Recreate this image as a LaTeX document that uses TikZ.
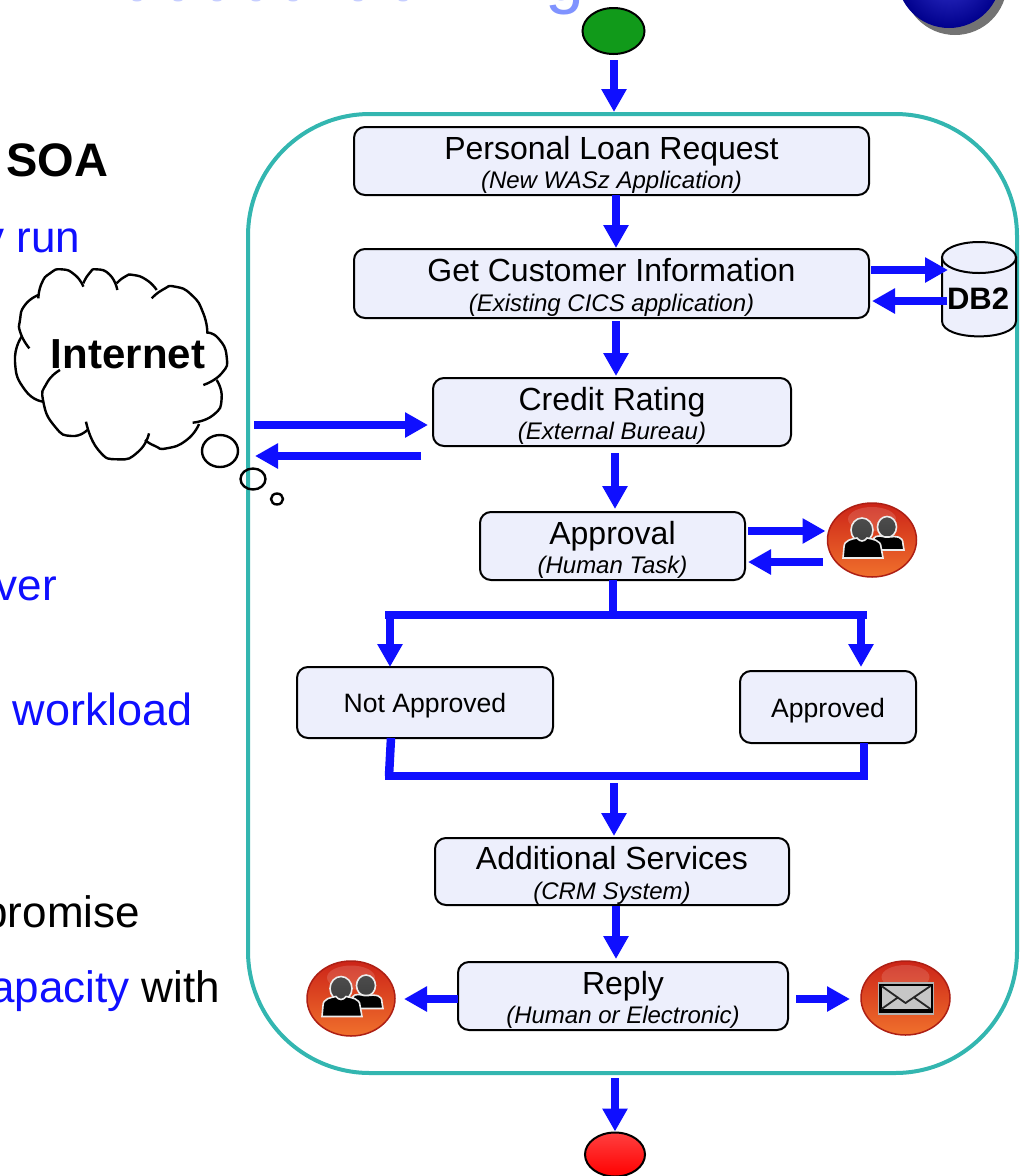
\documentclass[tikz,border=0pt]{standalone}
\usepackage{fontspec}
\setmainfont{Liberation Sans}
\usetikzlibrary{arrows.meta,calc,shapes.geometric}
\definecolor{flowblue}{HTML}{0F0FFF}
\definecolor{teal2}{HTML}{33B6B0}
\definecolor{boxfill}{HTML}{EDEFFC}
\definecolor{titleblue}{HTML}{8093FF}
\definecolor{gdark}{HTML}{119A1A}
\definecolor{gmid}{HTML}{45B545}
\definecolor{balltop}{HTML}{CC2418}
\definecolor{ballmid}{HTML}{E04A20}
\definecolor{ballbot}{HTML}{F0702C}
\tikzset{
  x=1pt,y=-1pt,
  frame/.style={draw=teal2,line width=4pt,rectangle,rounded corners=122pt,inner sep=0pt,outer sep=0pt},
  stepbox/.style={draw=black,line width=2pt,fill=boxfill,rectangle,rounded corners=11pt,inner sep=0pt,outer sep=0pt,align=center,
     font=\fontsize{32}{29.5}\selectfont},
  smallbox/.style={stepbox,font=\fontsize{26.6}{28}\selectfont},
  flow/.style={draw=flowblue,line width=8pt,-{Triangle[length=23pt,width=24pt]}},
  bar/.style={draw=flowblue,line width=8.5pt,line cap=butt},
  stem/.style={draw=flowblue,line width=8pt},
  cloudline/.style={draw=black,line width=2.4pt},
  bubble/.style={draw=black,line width=2.4pt,ellipse,inner sep=0pt,outer sep=0pt},
  ball/.style={ellipse,inner sep=0pt,outer sep=0pt,draw=balltop!85!black,line width=1.5pt,top color=balltop,middle color=ballmid,bottom color=ballbot},
  bodytext/.style={inner sep=0pt,outer sep=0pt,anchor=base east,font=\fontsize{44}{44}\selectfont},
  person/.style={draw=white!85!gray,line width=1.6pt,fill=black},
  phead/.style={draw=white!85!gray,line width=1.6pt,top color=gray!60!black,bottom color=black!75},
}
\newcommand\steptxt[2]{\rule{0pt}{31pt}#1\\{\fontsize{24}{29.5}\selectfont\itshape #2}}
\newcommand\smalltxt[1]{\rule{0pt}{26pt}#1}
\newcommand\lobe[1]{\draw[cloudline,xscale=1/3,yscale=1/3] plot[smooth,tension=1] coordinates {#1};}
\newcommand\people[2]{\begin{scope}[shift={(#1,#2)}]
  \path[phead] (15,-13) ellipse[x radius=9.5,y radius=10.5];
  \path[person] (2,10) -- (2,-2) .. controls (4,-5) and (10,-4) .. (13,-3) -- (17,-3) .. controls (24,-4) and (31,-4) .. (31,4) -- (32,10) -- cycle;
  \path[phead] (-10,-10) ellipse[x radius=11,y radius=12];
  \path[person] (-29,18) -- (-28,7) .. controls (-28,0) and (-20,-1) .. (-15,-2) .. controls (-12,2) and (-8,2) .. (-5,-2) .. controls (0,-1) and (9,0) .. (9,7) -- (11,18) -- cycle;
\end{scope}}
\begin{document}
\begin{tikzpicture}
\useasboundingbox (0,0) rectangle (1028,1176);
\begin{scope}
\clip (0,0) rectangle (1028,1176);
% title remains
\node[inner sep=0pt,anchor=base,text=titleblue,font=\fontsize{70}{70}\selectfont] (titleg) at (565,0) {g};
\foreach \fx in {137,178,217,256,293,358,403}
  \fill[titleblue!45!white] (\fx,-2) ellipse[x radius=6,y radius=3.5];
% globe
\fill[gray!90!black] (955,-17) circle[radius=52];
\shade[inner color=blue!60!gray,outer color=blue!55!black] (949,-24) circle[radius=52];
% body text fragments
\node[bodytext,font=\bfseries\fontsize{47}{47}\selectfont] (soa) at (108,176) {SOA};
\node[bodytext,text=flowblue] (t1) at (80,252) {y run};
\node[bodytext,text=flowblue] (t2) at (57,600) {ver};
\node[bodytext,text=flowblue,font=\fontsize{45}{45}\selectfont] (t3) at (193,725) {workload};
\node[bodytext] (t4) at (140,927) {promise};
\node[bodytext] (t5) at (220,1002) {\textcolor{flowblue}{apacity} with};
\end{scope}
% frame
\node[frame,minimum width=769,minimum height=959] (frame) at (632.5,593.5) {};
% boxes
\coordinate (axis) at (616,0);
\node[stepbox,minimum width=515,minimum height=68] (b1) at (611.5,161) {\steptxt{Personal Loan Request}{(New WASz Application)}};
\node[stepbox,minimum width=515,minimum height=69] (b2) at (611.5,283.5) {\steptxt{Get Customer Information}{(Existing CICS application)}};
\node[stepbox,minimum width=358,minimum height=68] (b3) at (612,412) {\steptxt{Credit Rating}{(External Bureau)}};
\node[stepbox,minimum width=265,minimum height=68] (b4) at (612.5,546) {\steptxt{Approval}{(Human Task)}};
\node[smallbox,minimum width=256,minimum height=71] (na) at (425,702.5) {\smalltxt{Not Approved}};
\node[smallbox,minimum width=176,minimum height=72] (ap) at (828,707) {\smalltxt{Approved}};
\node[stepbox,minimum width=354,minimum height=67] (b7) at (612,871.5) {\steptxt{Additional Services}{(CRM System)}};
\node[stepbox,minimum width=330,minimum height=68] (b8) at (623,996) {\steptxt{Reply}{(Human or Electronic)}};
% start / stop
\node[ellipse,draw=black,line width=2pt,inner sep=0pt,outer sep=0pt,minimum width=62,minimum height=46,top color=gdark,middle color=gmid,bottom color=gdark] (start) at (613.5,31) {};
\node[ellipse,draw=black,line width=2pt,inner sep=0pt,outer sep=0pt,minimum width=60,minimum height=44,top color=red!75!white,bottom color=red] (stopn) at (615,1154.5) {};
% DB2 cylinder
\path[draw=black,line width=2pt,fill=boxfill] (942,257.5) -- (942,321) .. controls (942,341.5) and (1016,341.5) .. (1016,321) -- (1016,257.5) -- cycle;
\path[draw=black,line width=2pt,fill=boxfill] (979,257.5) ellipse[x radius=37,y radius=15.5];
\node[inner sep=0pt,outer sep=0pt,font=\bfseries\fontsize{31}{31}\selectfont] (db) at (978,299) {DB2};
% human / mail balls
\node[ball,minimum width=89,minimum height=74] (hum1) at (872,540) {};
\node[ball,minimum width=88,minimum height=75] (hum2) at (351,998.5) {};
\node[ball,minimum width=89,minimum height=74] (mail) at (905.5,998) {};
\foreach \bx/\by in {872/540,351/998.5,905.5/998}
  \fill[white,opacity=.14] (\bx,\by-21) ellipse[x radius=24,y radius=12];
\people{872}{540}
\people{351}{998.5}
\begin{scope}[shift={(905.5,998)}]
  \path[fill=black,draw=gray!60,line width=1.5pt] (-27,-15) rectangle (28,16);
  \path[fill=gray!45] (-24,-12) rectangle (25,11);
  \draw[gray!30!black,line width=1.8pt,line join=round] (-24,-12) -- (0,5) -- (25,-12) (-24,11) -- (-7,-1) (25,11) -- (8,-1);
\end{scope}
% cloud
\lobe{(88,1045) (62,1000) (60,960) (75,915) (115,885)}
\lobe{(115,895) (125,850) (150,820) (185,808) (225,825) (250,860)}
\lobe{(250,850) (268,820) (290,808) (330,825) (352,870)}
\lobe{(350,850) (375,830) (400,825) (440,840) (470,870)}
\lobe{(455,895) (490,868) (525,860) (575,885) (610,940) (622,1000)}
\lobe{(620,998) (655,1015) (680,1070) (665,1120) (610,1155)}
\lobe{(650,1140) (665,1195) (640,1245) (578,1268)}
\lobe{(597,1272) (560,1320) (500,1345) (465,1338) (435,1320)}
\lobe{(447,1300) (415,1355) (355,1378) (295,1350) (258,1265)}
\lobe{(262,1290) (215,1308) (165,1280) (130,1205) (140,1150) (180,1110)}
\lobe{(130,1205) (75,1170) (45,1085) (65,1010)}
\node[inner sep=0pt,outer sep=0pt,font=\bfseries\fontsize{42}{42}\selectfont] (net) at (128,354) {Internet};
\node[bubble,minimum width=36,minimum height=32] (bub1) at (220,451) {};
\node[bubble,minimum width=25,minimum height=21] (bub2) at (253,479) {};
\node[bubble,minimum width=12,minimum height=11] (bub3) at (277,499) {};
% main flow
\draw[flow,shorten <=6pt,shorten >=2pt] (start.south -| 614,0) -- (frame.north -| 614,0);
\draw[flow,shorten >=1pt] (b1.south -| axis) -- (b2.north -| axis);
\draw[flow,shorten <=3pt,shorten >=2pt] (b2.south -| axis) -- (b3.north -| axis);
\draw[flow,shorten <=7pt,shorten >=3pt] (b3.south -| 615,0) -- (b4.north -| 615,0);
\draw[stem,shorten >=-2pt] (b4.south -| 613,0) -- (613,612);
\coordinate (barTL) at (385,615);
\coordinate (barTR) at (867,615);
\coordinate (barBL) at (385,776);
\coordinate (barBR) at (868,776);
\draw[bar] (barTL) -- (barTR);
\draw[bar] (barBL) -- (barBR);
\draw[flow] (390,615) -- (na.north -| 390,0);
\draw[flow,shorten >=4pt] (861,615) -- (ap.north -| 861,0);
\draw[stem,line width=8.5pt] (na.south -| 391,0) -- (389,776);
\draw[stem,line width=8.5pt] (ap.south -| 864,0) -- (864,776);
\draw[flow,shorten >=2pt] (614,783) -- (b7.north -| 614,0);
\draw[flow,shorten <=1pt,shorten >=3pt] (b7.south -| axis) -- (b8.north -| axis);
\draw[flow,shorten <=5pt,shorten >=1pt] (frame.south -| 615,0) -- (stopn.north);
% side flows
\coordinate (netin) at (254,425);
\coordinate (netout) at (255,456);
\draw[flow,shorten >=5pt] (netin) -- (b3.west |- netin);
\draw[flow,shorten <=12pt] (b3.west |- netout) -- (netout);
\coordinate (dba) at (0,270);
\coordinate (dbb) at (0,301);
\draw[flow,shorten <=2pt,shorten >=-1pt] (b2.east |- dba) -- (db.west |- dba);
\draw[flow,shorten >=3pt] (db.west |- dbb) -- (b2.east |- dbb);
\coordinate (apa) at (0,531);
\coordinate (apb) at (0,562);
\draw[flow,shorten <=3pt,shorten >=2pt] (b4.east |- apa) -- (hum1.west |- apa);
\draw[flow,shorten <=5pt,shorten >=3pt] (hum1.west |- apb) -- (b4.east |- apb);
\coordinate (rep) at (0,999);
\draw[flow,shorten >=9pt] (b8.west |- rep) -- (hum2.east |- rep);
\draw[flow,shorten <=8pt,shorten >=11pt] (b8.east |- rep) -- (mail.west |- rep);
\end{tikzpicture}
\end{document}
